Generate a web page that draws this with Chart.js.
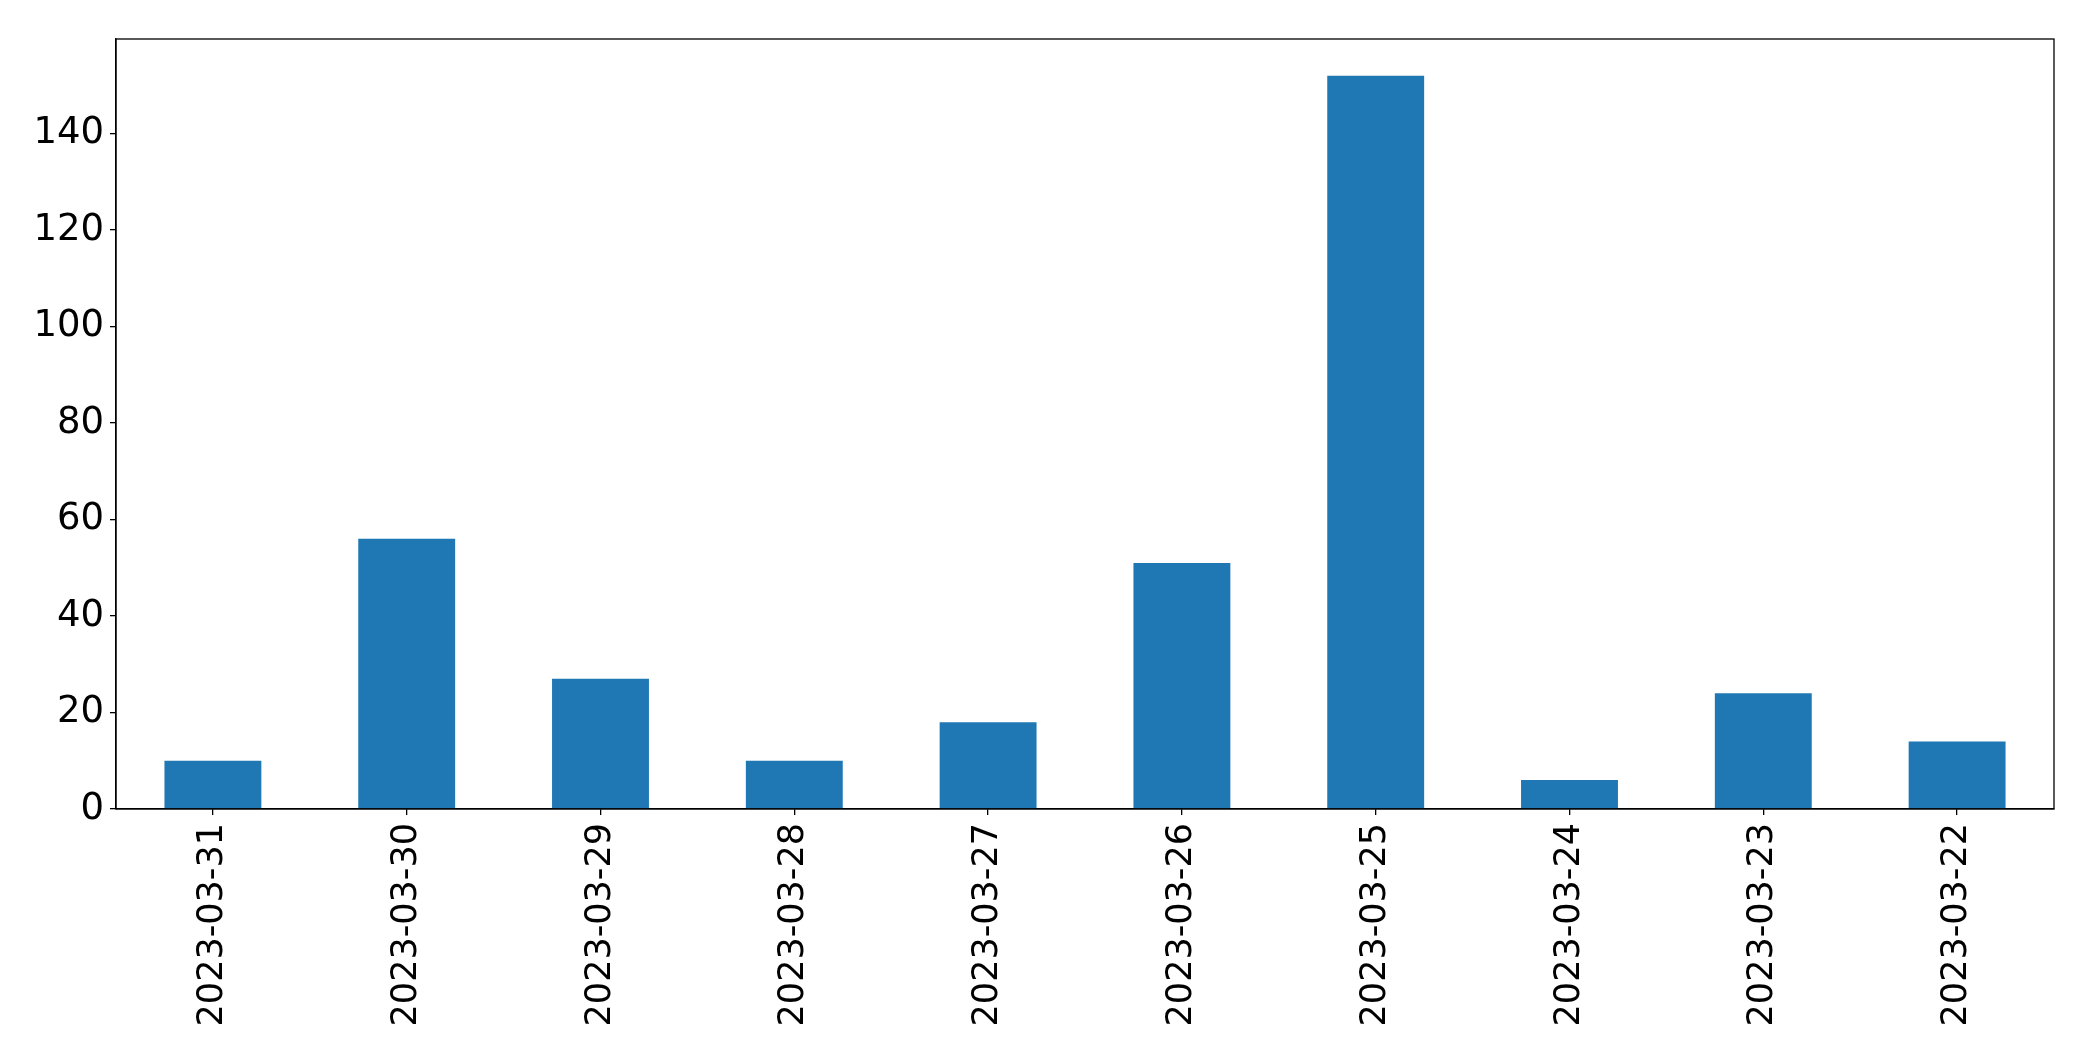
<!DOCTYPE html>
<html>
<head>
<meta charset="utf-8">
<script src="https://cdn.jsdelivr.net/npm/chart.js@4"></script>
<style>
  html, body { margin: 0; padding: 0; background: #fff; }
  #wrap { width: 2093px; height: 1061px; }
</style>
</head>
<body>
<div id="wrap"><canvas id="chart" width="2093" height="1061"></canvas></div>
<script>
const dates = ['2023-03-31', '2023-03-30', '2023-03-29', '2023-03-28', '2023-03-27',
               '2023-03-26', '2023-03-25', '2023-03-24', '2023-03-23', '2023-03-22'];
const counts = [10, 56, 27, 10, 18, 51, 152, 6, 24, 14];
const yTicks = [0, 20, 40, 60, 80, 100, 120, 140];

// black box round the plot area, like matplotlib's spines
const frame = {
    id: 'frame',
    afterDraw(chart) {
        const a = chart.chartArea;
        const ctx = chart.ctx;
        ctx.save();
        ctx.strokeStyle = '#000';
        ctx.lineWidth = 1.3;
        ctx.strokeRect(a.left, a.top, a.right - a.left, a.bottom - a.top);
        ctx.restore();
    }
};

const ctx = document.getElementById('chart').getContext('2d');
new Chart(ctx, {
    type: 'bar',
    data: {
        labels: dates,
        datasets: [{
            data: counts,
            backgroundColor: '#1f77b4',
            borderWidth: 0,
            barPercentage: 0.5,
            categoryPercentage: 1.0
        }]
    },
    options: {
        responsive: false,
        animation: false,
        layout: { padding: { top: 39, right: 39, left: 0, bottom: 0 } },
        plugins: {
            legend: { display: false },
            tooltip: { enabled: false }
        },
        scales: {
            x: {
                offset: true,
                grid: { offset: false, drawOnChartArea: false, drawTicks: true, tickLength: 6, color: '#000', lineWidth: 1.3 },
                border: { display: true, color: '#000', width: 1.3 },
                ticks: {
                    color: '#000',
                    font: { family: 'DejaVu Sans', size: 35 },
                    minRotation: 90,
                    maxRotation: 90,
                    padding: 8,
                    autoSkip: false
                },
                afterFit(scale) { scale.height = 252; }
            },
            y: {
                min: 0,
                max: 159.6,
                grid: { drawOnChartArea: false, drawTicks: true, tickLength: 6, color: '#000', lineWidth: 1.3 },
                border: { display: true, color: '#000', width: 1.3 },
                ticks: {
                    color: '#000',
                    font: { family: 'DejaVu Sans', size: 37 },
                    padding: 6
                },
                afterBuildTicks(scale) {
                    scale.ticks = yTicks.map(v => ({ value: v }));
                },
                afterFit(scale) { scale.width = 116; }
            }
        }
    },
    plugins: [frame]
});
</script>
</body>
</html>
